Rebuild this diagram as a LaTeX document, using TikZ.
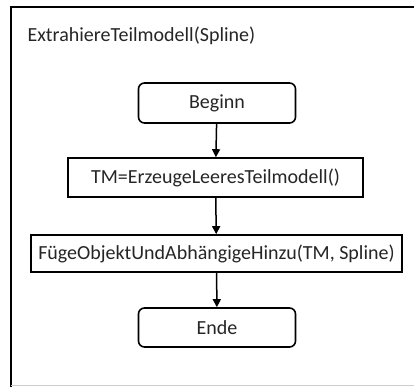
\documentclass[tikz,border=0pt]{standalone}
\usepackage{fontspec}
\setmainfont{Carlito}
\usetikzlibrary{arrows.meta}
\begin{document}
\begin{tikzpicture}[x=1pt,y=-1pt,
  txt/.style={font=\fontsize{20}{24}\selectfont, text=black!85},
  rbox/.style={draw, line width=1.6pt, rounded corners=6pt, inner sep=0pt, txt},
  sbox/.style={draw, line width=1.6pt, inner sep=0pt, txt},
  flow/.style={line width=1.5pt, -{Triangle[length=8pt,width=8pt]}}]
\useasboundingbox (0,0) rectangle (414,387);
\fill[white] (0,0) rectangle (414,387);
\draw[line width=1.6pt] (11,387) -- (11,7) -- (414,7);
\draw[line width=1pt, black!20] (11,385.5) -- (414,385.5);
\node[txt, anchor=west] (title) at (24,36) {ExtrahiereTeilmodell(Spline)};
\node[rbox, minimum width=157pt, minimum height=40pt] (beg) at (217,103) {Beginn};
\node[sbox, minimum width=295pt, minimum height=39pt] (tm) at (215.5,177.5) {TM=ErzeugeLeeresTeilmodell()};
\node[sbox, minimum width=371pt, minimum height=37pt] (fo) at (216.5,253.5) {FügeObjektUndAbhängigeHinzu(TM, Spline)};
\node[rbox, minimum width=157pt, minimum height=39pt] (end) at (217,327.5) {Ende};
\draw[flow] (beg) -- (tm);
\draw[flow] (tm) -- (fo);
\draw[flow] (fo) -- (end);
\end{tikzpicture}
\end{document}
